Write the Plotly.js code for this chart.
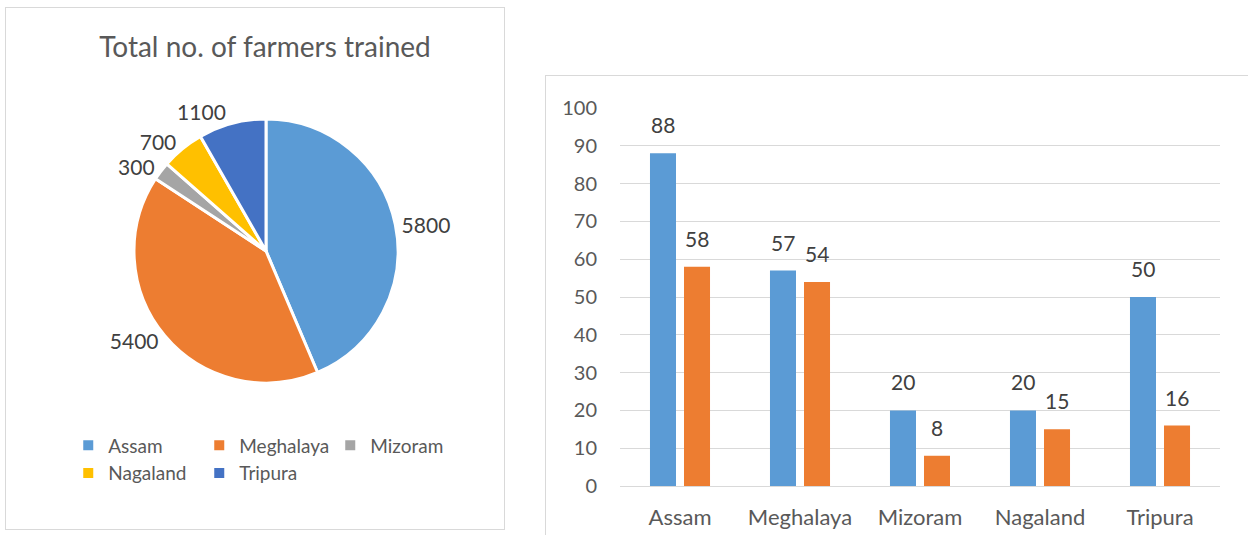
<!DOCTYPE html>
<html>
<head>
<meta charset="utf-8">
<script src="https://cdn.plot.ly/plotly-3.0.1.min.js"></script>
<style>
  html, body { margin:0; padding:0; background:#ffffff; width:1248px; height:535px; overflow:hidden; }
  #pie { position:absolute; left:5px; top:7px; width:500px; height:523px; border:1px solid #d9d9d9; box-sizing:border-box; }
  #bar { position:absolute; left:545px; top:75px; width:710px; height:470px; border:1px solid #d9d9d9; box-sizing:border-box; }
</style>
</head>
<body>
<div id="pie"></div>
<div id="bar"></div>
<script>
// ---- data ----
const states = ["Assam", "Meghalaya", "Mizoram", "Nagaland", "Tripura"];
const farmersTrained = [5800, 5400, 300, 700, 1100];
const pieTitle = "Total no. of farmers trained";
const series1 = [88, 57, 20, 20, 50];
const series2 = [58, 54, 8, 15, 16];
const yTicks = [0, 10, 20, 30, 40, 50, 60, 70, 80, 90, 100];

const FONT = "Lato, 'Noto Sans', sans-serif";
const pieColors = ["#5B9BD5", "#ED7D31", "#A5A5A5", "#FFC000", "#4472C4"];
const barColors = ["#5B9BD5", "#ED7D31"];

// ---- pie ----
Plotly.newPlot("pie", [{
  type: "pie",
  labels: states,
  values: farmersTrained,
  sort: false,
  direction: "clockwise",
  rotation: 0,
  marker: { colors: pieColors, line: { color: "#ffffff", width: 3 } },
  textinfo: "value",
  textposition: "outside",
  textfont: { family: FONT, size: 21, color: "#404040" },
  domain: { x: [128/498, 392/498], y: [146/521, 410/521] },
  hoverinfo: "label+value"
}], {
  width: 498, height: 521,
  margin: { l: 0, r: 0, t: 0, b: 0 },
  paper_bgcolor: "#ffffff",
  font: { family: FONT, color: "#595959" },
  title: { text: pieTitle, font: { family: FONT, size: 28, color: "#595959" }, x: 0.52, xanchor: "center", y: 0.925, yanchor: "middle" },
  showlegend: true,
  legend: {
    orientation: "h", x: 0.125, xanchor: "left", y: 0.197, yanchor: "top",
    entrywidth: 86, entrywidthmode: "pixels",
    font: { family: FONT, size: 19, color: "#595959" },
    itemsizing: "constant"
  }
}, { displayModeBar: false, staticPlot: true });

// ---- bar ----
const BARGAP = 0.433, GROUPGAP = 0.235;
const slot = (1 - BARGAP) / 2;
const labelAnn = [];
[series1, series2].forEach((s, k) => {
  s.forEach((v, i) => {
    labelAnn.push({
      xref: "x", yref: "y", x: i + (k === 0 ? -slot / 2 : slot / 2), y: v,
      text: String(v), showarrow: false, yanchor: "bottom", yshift: 14,
      font: { family: FONT, size: 21, color: "#404040" }
    });
  });
});

Plotly.newPlot("bar", [
  { type: "bar", name: "Series1", x: states, y: series1, marker: { color: barColors[0] } },
  { type: "bar", name: "Series2", x: states, y: series2, marker: { color: barColors[1] } }
], {
  width: 708, height: 468,
  margin: { l: 74, r: 34, t: 32, b: 58 },
  barmode: "group", bargap: BARGAP, bargroupgap: GROUPGAP,
  paper_bgcolor: "#ffffff", plot_bgcolor: "#ffffff",
  showlegend: false,
  font: { family: FONT, color: "#595959" },
  annotations: labelAnn,
  xaxis: {
    type: "category", showgrid: false, showline: false, ticks: "",
    ticklabelstandoff: 16,
    tickfont: { family: FONT, size: 22, color: "#595959" }
  },
  yaxis: {
    range: [0, 100], tickvals: yTicks, showgrid: true, gridcolor: "#d9d9d9", gridwidth: 1,
    zeroline: true, zerolinecolor: "#d9d9d9", showline: false, ticks: "",
    ticklabelstandoff: 22,
    tickfont: { family: FONT, size: 20, color: "#595959" }
  }
}, { displayModeBar: false, staticPlot: true });
</script>
</body>
</html>
